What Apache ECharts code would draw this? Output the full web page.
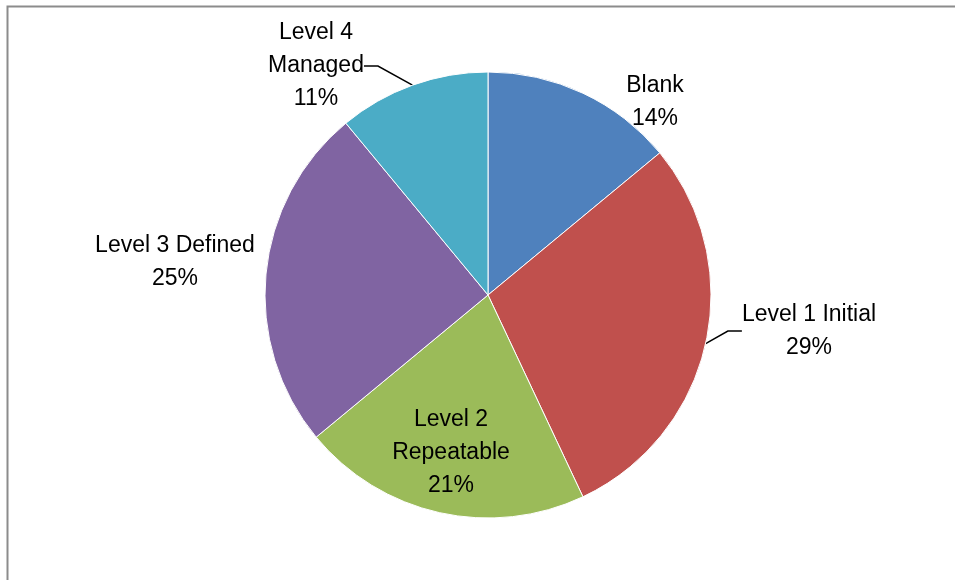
<!DOCTYPE html>
<html>
<head>
<meta charset="utf-8">
<script src="https://cdn.jsdelivr.net/npm/echarts@6/dist/echarts.min.js"></script>
<style>
  html, body { margin: 0; padding: 0; background: #fff; }
  #chart { width: 955px; height: 580px; }
</style>
</head>
<body>
<div id="chart"></div>
<script>
// Maturity level breakdown
const categories = ['Blank', 'Level 1 Initial', 'Level 2\nRepeatable', 'Level 3 Defined', 'Level 4\nManaged'];
const percents = [14, 29, 21, 25, 11];
const colors = ['#4F81BD', '#C0504D', '#9BBB59', '#8064A2', '#4BACC6'];

// label anchor points (centre of each text block) and whether a leader line is drawn
const labelSpots = [
  { x: 655, y: 102, line: false },
  { x: 809, y: 331, line: true },
  { x: 451, y: 453, line: false },
  { x: 175, y: 262, line: false },
  { x: 316, y: 66, line: true }
];

const chart = echarts.init(document.getElementById('chart'));

const data = categories.map((name, i) => ({
  name: name,
  value: percents[i],
  itemStyle: { color: colors[i] },
  labelLine: { show: labelSpots[i].line }
}));

chart.setOption({
  animation: false,
  backgroundColor: '#fff',
  graphic: [{
    type: 'rect',
    shape: { x: 7.5, y: 6.5, width: 1000, height: 700 },
    style: { fill: 'none', stroke: '#8c8c8c', lineWidth: 2 },
    silent: true
  }],
  series: [{
    type: 'pie',
    center: [488, 295],
    radius: 223,
    startAngle: 90,
    clockwise: true,
    data: data,
    itemStyle: { borderColor: '#fff', borderWidth: 1 },
    label: {
      show: true,
      position: 'outside',
      formatter: p => p.name + '\n' + p.value + '%',
      fontFamily: 'Liberation Sans, Arial, sans-serif',
      fontSize: 23,
      lineHeight: 33,
      color: '#000',
      textAlign: 'center'
    },
    labelLine: {
      show: true,
      length: 12,
      length2: 14,
      lineStyle: { color: '#000', width: 1.5 }
    },
    labelLayout: function (params) {
      const s = labelSpots[params.dataIndex];
      return {
        x: s.x,
        y: s.y,
        align: 'center',
        verticalAlign: 'middle'
      };
    }
  }]
});
</script>
</body>
</html>
